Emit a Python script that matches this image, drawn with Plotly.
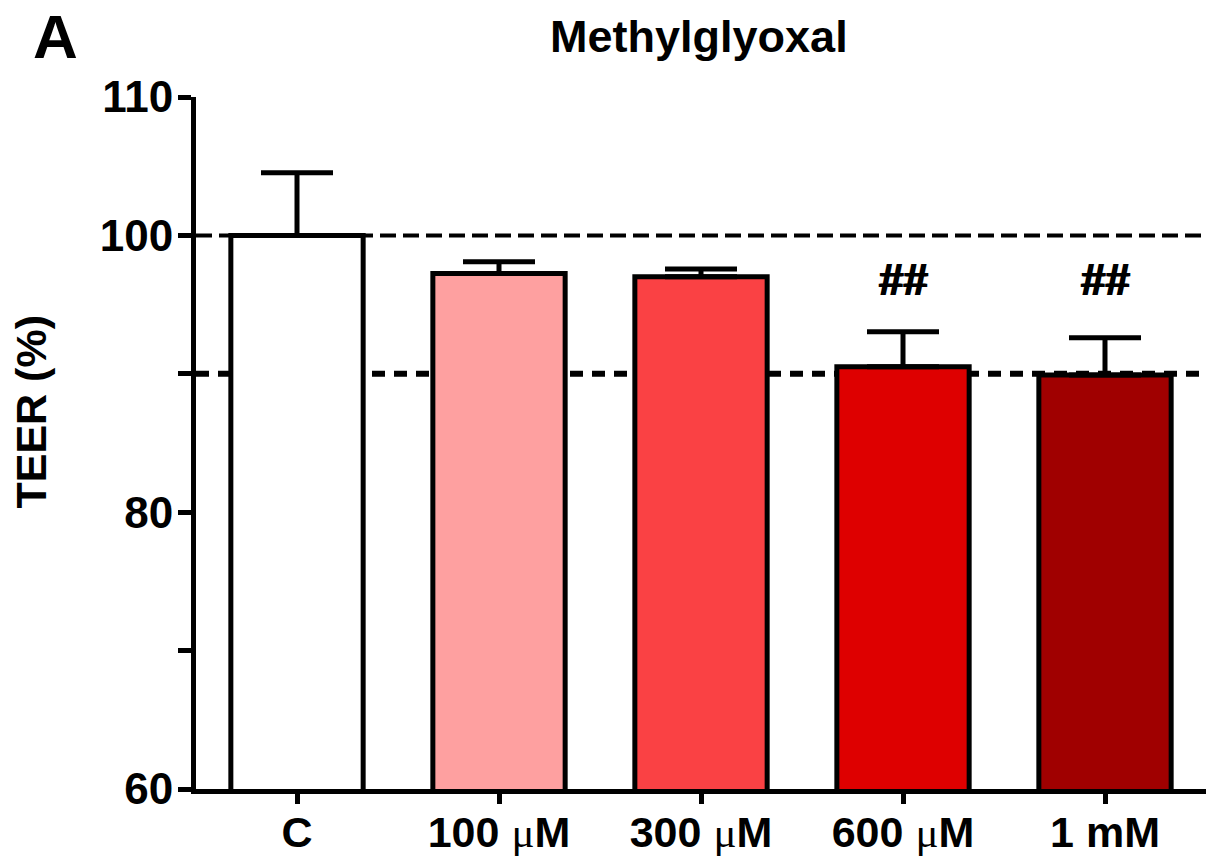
import plotly.graph_objects as go

categories = ["C", "100 μM", "300 μM", "600 μM", "1 mM"]
tick_labels = ["C",
               "100 <span style='font-family:Liberation Serif;font-weight:normal'>μ</span>M",
               "300 <span style='font-family:Liberation Serif;font-weight:normal'>μ</span>M",
               "600 <span style='font-family:Liberation Serif;font-weight:normal'>μ</span>M",
               "1 mM"]
teer_values = [100.0, 97.24, 97.01, 90.51, 89.91]
teer_errors = [4.52, 0.85, 0.57, 2.53, 2.69]
bar_colors = ["#FFFFFF", "#FEA0A0", "#FA4144", "#DE0000", "#A00000"]
significance = ["", "", "", "##", "##"]
ref_lines = [100, 90]
y_tickvals = [60, 70, 80, 90, 100, 110]
y_ticktext = ["60", "", "80", "", "100", "110"]

FONT = "Liberation Sans, Arial, sans-serif"

fig = go.Figure()
fig.add_trace(go.Bar(
    x=list(range(len(categories))),
    y=teer_values,
    width=0.655,
    marker=dict(color=bar_colors, line=dict(color="black", width=5)),
    error_y=dict(type="data", array=teer_errors, arrayminus=[0] * len(teer_errors),
                 symmetric=False, color="black", thickness=5, width=36),
    showlegend=False,
    hoverinfo="x+y",
))

# reference lines
fig.add_shape(type="line", xref="paper", x0=0, x1=1, yref="y", y0=ref_lines[0], y1=ref_lines[0],
              line=dict(color="black", width=4, dash="16px,7px"), layer="below")
fig.add_shape(type="line", xref="paper", x0=0, x1=1, yref="y", y0=ref_lines[1], y1=ref_lines[1],
              line=dict(color="black", width=6, dash="13px,9px"), layer="below")

# significance marks
for i, s in enumerate(significance):
    if s:
        fig.add_annotation(x=i, y=96.8, xref="x", yref="y", text="<b>%s</b>" % s, showarrow=False,
                           font=dict(family=FONT, size=44, color="black", weight="bold",
                                     shadow="1px 0px 0px black, -1px 0px 0px black"),
                           xanchor="center", yanchor="middle")

# panel letter
fig.add_annotation(x=-0.163, y=1.088, xref="paper", yref="paper", text="<b>A</b>",
                   showarrow=False, font=dict(family=FONT, size=62, color="black"),
                   xanchor="left", yanchor="middle")

# y-axis title
fig.add_annotation(x=-0.163, y=0.546, xref="paper", yref="paper", text="<b>TEER (%)</b>",
                   showarrow=False, textangle=-90,
                   font=dict(family=FONT, size=43, color="black"),
                   xanchor="center", yanchor="middle")

fig.update_layout(
    width=1207, height=860,
    margin=dict(l=196, r=1, t=97, b=71, autoexpand=False),
    paper_bgcolor="white", plot_bgcolor="white",
    title=dict(text="<b>Methylglyoxal</b>", x=0.579, xanchor="center",
               y=0.958, yanchor="middle",
               font=dict(family=FONT, size=45, color="black")),
    font=dict(family=FONT, color="black"),
)
fig.update_xaxes(
    range=[-0.5, 4.5], automargin=False,
    tickvals=list(range(len(categories))), ticktext=["<b>%s</b>" % t for t in tick_labels],
    showline=True, linecolor="black", linewidth=5,
    ticks="outside", ticklen=10, tickwidth=5, tickcolor="black",
    ticklabelstandoff=-9,
    tickfont=dict(family=FONT, size=43, color="black"),
    showgrid=False, zeroline=False, fixedrange=True,
)
fig.update_yaxes(
    range=[60, 110], automargin=False,
    tickvals=y_tickvals, ticktext=["<b>%s</b>" % t if t else "" for t in y_ticktext],
    showline=True, linecolor="black", linewidth=5,
    ticks="outside", ticklen=13, tickwidth=5, tickcolor="black",
    ticklabelstandoff=-4,
    tickfont=dict(family=FONT, size=44, color="black"),
    showgrid=False, zeroline=False, fixedrange=True,
)

fig.write_html("out.html")
